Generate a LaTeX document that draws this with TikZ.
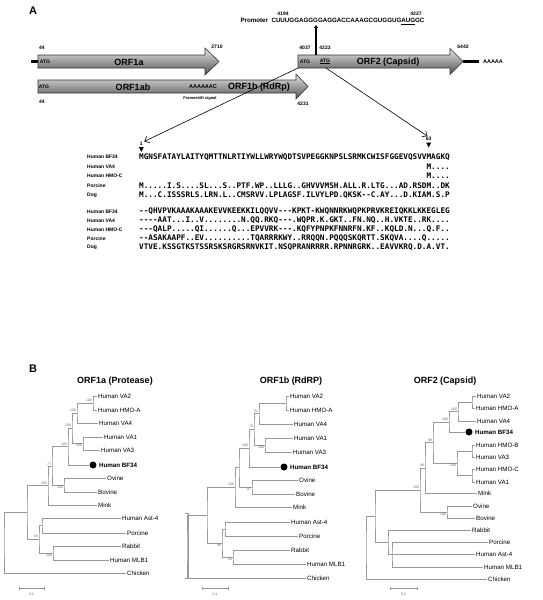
\documentclass[tikz,border=0pt]{standalone}
\usepackage{fontspec}
\setmainfont{Liberation Sans}
\newfontfamily\seqfont[Ligatures=TeXOff]{DejaVu Sans Mono}
\usetikzlibrary{arrows.meta}
\newcommand{\fs}[1]{\fontsize{#1}{#1}\selectfont}

\tikzset{
  orf/.style={draw=black!80, line width=0.6pt, top color=black!10, bottom color=black!68},
  stub/.style={line width=3pt},
  orfname/.style={font=\fs{9}\bfseries},
  num/.style={font=\fs{5}\bfseries},
  panel/.style={font=\fs{11}\bfseries},
  aname/.style={font=\fs{5}\bfseries, anchor=west},
  seq/.style={font=\fs{7.7}\seqfont\bfseries, anchor=west},
  zoomline/.style={line width=0.6pt, shorten >=1.5pt, -{Straight Barb[length=4pt,width=7pt]}},
  promarrow/.style={line width=1.6pt, -{Latex[length=3pt,width=4.5pt]}},
  tree/.style={draw=black!40, line width=0.4pt},
  leaf/.style={anchor=west, inner sep=1.5pt, font=\fs{6.2}},
  bs/.style={font=\fs{3.5}, text=black!60, inner sep=0.8pt},
  dot/.style={circle, fill=black, minimum size=7pt},
  treetitle/.style={font=\fs{9}\bfseries}
}

\begin{document}
\begin{tikzpicture}[x=1pt,y=1pt]
\tikzstyle{every node}+=[inner sep=0pt]
\useasboundingbox (0,0) rectangle (543,-600);

\node[panel] (labA) at (33,-11) {A};
\node[num] (n4194) at (283,-14) {4194};
\node[num] (n4227) at (416,-14) {4227};
\node[font=\fs{6.2}\bfseries] (promtxt) at (332.5,-21.5) {Promoter\ \ CUUUGGAGGGGAGGACCAAAGCGUGGUG\underline{AUG}GC};

\draw[stub] (31,-61.5) -- (38,-61.5);
\draw[orf] (38,-55) -- (205,-55) -- (205,-48) -- (219,-61.5) -- (205,-75) -- (205,-68) -- (38,-68) -- cycle;
\node[num] (n44a) at (42,-48) {44};
\node[num] (n2710) at (217,-47) {2710};
\node[num] (atg1a) at (45,-61.5) {ATG};
\node[orfname] (orf1a) at (129,-62) {ORF1a};

\draw[orf] (38,-80) -- (296,-80) -- (296,-74) -- (308,-86.5) -- (296,-99) -- (296,-93) -- (38,-93) -- cycle;
\node[num] (atg1ab) at (44,-86.5) {ATG};
\node[orfname] (orf1ab) at (133,-87) {ORF1ab};
\node[font=\fs{5.5}\bfseries] (fsseq) at (203,-87) {AAAAAAC};
\node[orfname] (orf1b) at (259,-87) {ORF1b (RdRp)};
\node[font=\fs{4}\bfseries] (fssig) at (200,-98) {Frameshift signal};
\node[num] (n44b) at (42,-102) {44};
\node[num] (n4231) at (303,-104) {4231};

\draw[orf] (298,-55) -- (450,-55) -- (450,-48.5) -- (463,-61.5) -- (450,-74.5) -- (450,-68) -- (298,-68) -- cycle;
\draw[stub] (463,-61.5) -- (479,-61.5);
\node[num] (n4037) at (305,-48) {4037};
\node[num] (n4223) at (325,-48) {4223};
\node[num] (n6442) at (463,-47) {6442};
\node[num] (atg2a) at (305,-61.5) {ATG};
\node[num] (atg2b) at (325,-61.5) {\underline{ATG}};
\node[orfname] (orf2) at (388,-62) {ORF2 (Capsid)};
\node[font=\fs{5.5}\bfseries] (polya) at (493,-62) {AAAAA};

\coordinate (prom) at (316,-55);
\draw[promarrow] (prom) -- (prom |- promtxt.south);
\coordinate (orf2sw) at (298,-68);
\coordinate (orf2atg) at (326,-68);

\node[num] (first) at (141.3,-144) {1};
\fill (138.8,-147) -- (143.8,-147) -- (141.3,-152) -- cycle;
\node[num] (last) at (428.7,-139) {63};
\fill (426.2,-142.5) -- (431.2,-142.5) -- (428.7,-147.5) -- cycle;
\draw[zoomline] (orf2sw) -- (first.north east);
\draw[zoomline] (orf2atg) -- (last.north);

\node[aname] (hbf1) at (87,-157) {Human BF34};
\node[aname] (hva41) at (87,-166.5) {Human VA4};
\node[aname] (hhmo1) at (87,-176) {Human HMO-C};
\node[aname] (hpor1) at (87,-185.5) {Porcine};
\node[aname] (hdog1) at (87,-195) {Dog};
\node[seq] (sbf1) at (139,-157) {MGNSFATAYLAITYQMTTNLRTIYWLLWRYWQDTSVPEGGKNPSLSRMKCWISFGGEVQSVVMAGKQ};
\node[seq] (sva41) at (426.4,-166.5) {M....};
\node[seq] (shmo1) at (426.4,-176) {M....};
\node[seq] (spor1) at (139,-185.5) {M.....I.S....SL...S..PTF.WP..LLLG..GHVVVMSH.ALL.R.LTG...AD.RSDM..DK};
\node[seq] (sdog1) at (139,-195) {M...C.ISSSRLS.LRN.L..CMSRVV.LPLAGSF.ILVYLPD.QKSK--C.AY...D.KIAM.S.P};

\node[aname] (hbf2) at (87,-211.5) {Human BF34};
\node[aname] (hva42) at (87,-220.5) {Human VA4};
\node[aname] (hhmo2) at (87,-229.5) {Human HMO-C};
\node[aname] (hpor2) at (87,-238.5) {Porcine};
\node[aname] (hdog2) at (87,-247.5) {Dog};
\node[seq] (sbf2) at (139,-211.5) {--QHVPVKAAAKAAAKEVVKEEKKILQQVV---KPKT-KWQNNRKWQPKPRVKREIQKKLKKEGLEG};
\node[seq] (sva42) at (139,-220.5) {----AAT...I..V........N.QQ.RKQ---.WQPR.K.GKT..FN.NQ..H.VKTE..RK....};
\node[seq] (shmo2) at (139,-229.5) {---QALP.....QI......Q...EPVVRK---.KQFYPNPKFNNRFN.KF..KQLD.N...Q.F..};
\node[seq] (spor2) at (139,-238.5) {--ASAKAAPF..EV..........TQARRRKWY..RRQQN.PQQQSKQRTT.SKQVA....Q.....};
\node[seq] (sdog2) at (139,-247.5) {VTVE.KSSGTKSTSSRSKSRGRSRNVKIT.NSQPRANRRRR.RPNNRGRK..EAVVKRQ.D.A.VT.};

\node[panel] (labB) at (33,-369) {B};

\node[treetitle] (ta) at (115,-381) {ORF1a (Protease)};
\node[leaf] (aVA2) at (96.5,-396) {Human VA2};
\node[leaf] (aHMOA) at (96.5,-410) {Human HMO-A};
\node[leaf] (aVA4) at (97.5,-423) {Human VA4};
\node[leaf] (aVA1) at (102.5,-437) {Human VA1};
\node[leaf] (aVA3) at (99.5,-450) {Human VA3};
\node[dot] (aDot) at (93,-465) {};
\node[leaf,font=\fs{6.2}\bfseries] (aBF) at (97.5,-465) {Human BF34};
\node[leaf] (aOvine) at (105.5,-478) {Ovine};
\node[leaf] (aBovine) at (96.5,-492) {Bovine};
\node[leaf] (aMink) at (96.5,-505) {Mink};
\node[leaf] (aAst) at (120.5,-518) {Human Ast-4};
\node[leaf] (aPorcine) at (125.5,-533) {Porcine};
\node[leaf] (aRabbit) at (120.5,-546) {Rabbit};
\node[leaf] (aMLB) at (108.5,-560) {Human MLB1};
\node[leaf] (aChicken) at (125.5,-573) {Chicken};
\coordinate (a1) at (93,-403);
\coordinate (a2) at (77,-413);
\coordinate (a3) at (83,-443.5);
\coordinate (a4) at (72,-428);
\coordinate (a5) at (68,-446.5);
\coordinate (a6) at (64,-485);
\coordinate (a7) at (52,-466);
\coordinate (a8) at (48,-485.5);
\coordinate (a9) at (27,-512);
\coordinate (a10) at (42,-525.5);
\coordinate (a11) at (53,-553);
\coordinate (a12) at (39,-539);
\coordinate (a0) at (4,-542);
\draw[tree] (aVA2.west) -| (a1) |- (aHMOA.west);
\draw[tree] (a1) -| (a2) |- (aVA4.west);
\draw[tree] (aVA1.west) -| (a3) |- (aVA3.west);
\draw[tree] (a2) -| (a4) |- (a3);
\draw[tree] (a4) -| (a5) |- (aDot.west);
\draw[tree] (aOvine.west) -| (a6) |- (aBovine.west);
\draw[tree] (a5) -| (a7) |- (a6);
\draw[tree] (a7) -| (a8) |- (aMink.west);
\draw[tree] (aAst.west) -| (a10) |- (aPorcine.west);
\draw[tree] (aRabbit.west) -| (a11) |- (aMLB.west);
\draw[tree] (a10) -| (a12) |- (a11);
\draw[tree] (a8) -| (a9) |- (a12);
\draw[tree] (a9) -| (a0) |- (aChicken.west);
\node[bs,above left] (ab1) at (a1) {100};
\node[bs,above left] (ab2) at (a2) {100};
\node[bs,below left] (ab3) at (a3) {100};
\node[bs,above left] (ab4) at (a4) {100};
\node[bs,above left] (ab5) at (a5) {100};
\node[bs,below left] (ab6) at (a6) {100};
\node[bs,above left] (ab7) at (a7) {77};
\node[bs,above left] (ab8) at (a8) {100};
\node[bs,below left] (ab11) at (a11) {100};
\node[bs,above left] (ab12) at (a12) {83};
\draw[tree] (185,-513) -- (188,-513) -- (188,-578) -- (185,-578);
\draw[tree] (19,-586.5) -- (19,-589.5) (19,-588) -- (44,-588) (44,-586.5) -- (44,-589.5);
\node[bs] (asc) at (31.5,-594) {0.2};

\node[treetitle] (tb) at (291,-381) {ORF1b (RdRP)};
\node[leaf] (bVA2) at (288.5,-396) {Human VA2};
\node[leaf] (bHMOA) at (288.5,-410) {Human HMO-A};
\node[leaf] (bVA4) at (292.5,-424) {Human VA4};
\node[leaf] (bVA1) at (292.5,-438) {Human VA1};
\node[leaf] (bVA3) at (291.5,-452) {Human VA3};
\node[dot] (bDot) at (284,-467) {};
\node[leaf,font=\fs{6.2}\bfseries] (bBF) at (288.5,-467) {Human BF34};
\node[leaf] (bOvine) at (297.5,-480) {Ovine};
\node[leaf] (bBovine) at (294.5,-494) {Bovine};
\node[leaf] (bMink) at (291.5,-507) {Mink};
\node[leaf] (bAst) at (289.5,-522) {Human Ast-4};
\node[leaf] (bPorcine) at (297.5,-536) {Porcine};
\node[leaf] (bRabbit) at (289.5,-550) {Rabbit};
\node[leaf] (bMLB) at (305.5,-564) {Human MLB1};
\node[leaf] (bChicken) at (305.5,-578) {Chicken};
\coordinate (b1) at (286,-403);
\coordinate (b2) at (259,-413.5);
\coordinate (b3) at (265,-445);
\coordinate (b4) at (254,-429);
\coordinate (b5) at (249,-448);
\coordinate (b6) at (252,-487);
\coordinate (b7) at (239,-467.5);
\coordinate (b8) at (235,-487);
\coordinate (b9) at (207,-515);
\coordinate (b10) at (225,-529);
\coordinate (b11) at (233,-557);
\coordinate (b12) at (222,-543);
\coordinate (b0) at (187,-546.5);
\draw[tree] (bVA2.west) -| (b1) |- (bHMOA.west);
\draw[tree] (b1) -| (b2) |- (bVA4.west);
\draw[tree] (bVA1.west) -| (b3) |- (bVA3.west);
\draw[tree] (b2) -| (b4) |- (b3);
\draw[tree] (b4) -| (b5) |- (bDot.west);
\draw[tree] (bOvine.west) -| (b6) |- (bBovine.west);
\draw[tree] (b5) -| (b7) |- (b6);
\draw[tree] (b7) -| (b8) |- (bMink.west);
\draw[tree] (bAst.west) -| (b10) |- (bPorcine.west);
\draw[tree] (bRabbit.west) -| (b11) |- (bMLB.west);
\draw[tree] (b10) -| (b12) |- (b11);
\draw[tree] (b8) -| (b9) |- (b12);
\draw[tree] (b9) -| (b0) |- (bChicken.west);
\node[bs,above left] (bb2) at (b2) {91};
\node[bs,below left] (bb3) at (b3) {100};
\node[bs,above left] (bb4) at (b4) {70};
\node[bs,above left] (bb5) at (b5) {100};
\node[bs,below left] (bb6) at (b6) {97};
\node[bs,above left] (bb8) at (b8) {100};
\node[bs,below left] (bb11) at (b11) {94};
\node[bs,below left] (bb12) at (b12) {99};
\draw[tree] (202,-586.5) -- (202,-589.5) (202,-588) -- (228,-588) (228,-586.5) -- (228,-589.5);
\node[bs] (bsc) at (215,-594) {0.1};

\node[treetitle] (tc) at (445,-381) {ORF2 (Capsid)};
\node[leaf] (cVA2) at (475.5,-396) {Human VA2};
\node[leaf] (cHMOA) at (474.5,-408) {Human HMO-A};
\node[leaf] (cVA4) at (475.5,-421) {Human VA4};
\node[dot] (cDot) at (469,-432) {};
\node[leaf,font=\fs{6.2}\bfseries] (cBF) at (473.5,-432) {Human BF34};
\node[leaf] (cHMOB) at (474.5,-445) {Human HMO-B};
\node[leaf] (cVA3) at (474.5,-457) {Human VA3};
\node[leaf] (cHMOC) at (474.5,-469) {Human HMO-C};
\node[leaf] (cVA1) at (474.5,-482) {Human VA1};
\node[leaf] (cMink) at (476.5,-493) {Mink};
\node[leaf] (cOvine) at (471.5,-506) {Ovine};
\node[leaf] (cBovine) at (474.5,-518) {Bovine};
\node[leaf] (cRabbit) at (470.5,-530) {Rabbit};
\node[leaf] (cPorcine) at (487.5,-542) {Porcine};
\node[leaf] (cAst) at (474.5,-554) {Human Ast-4};
\node[leaf] (cMLB) at (482.5,-567) {Human MLB1};
\node[leaf] (cChicken) at (486.5,-579) {Chicken};
\coordinate (c1) at (472,-402);
\coordinate (c2) at (458,-411.5);
\coordinate (c3) at (449,-421.75);
\coordinate (c4a) at (472,-451);
\coordinate (c4b) at (472,-475.5);
\coordinate (c4) at (457,-463.25);
\coordinate (c5) at (433,-442.5);
\coordinate (c6) at (425,-467.75);
\coordinate (c7) at (447,-512);
\coordinate (c8) at (420,-489.9);
\coordinate (c9) at (388,-542.25);
\coordinate (c10) at (392,-554.5);
\coordinate (c11) at (375,-516);
\coordinate (c0) at (366,-547.5);
\draw[tree] (cVA2.west) -| (c1) |- (cHMOA.west);
\draw[tree] (c1) -| (c2) |- (cVA4.west);
\draw[tree] (c2) -| (c3) |- (cDot.west);
\draw[tree] (cHMOB.west) -| (c4a) |- (cVA3.west);
\draw[tree] (cHMOC.west) -| (c4b) |- (cVA1.west);
\draw[tree] (c4a) -| (c4) |- (c4b);
\draw[tree] (c3) -| (c5) |- (c4);
\draw[tree] (c5) -| (c6) |- (cMink.west);
\draw[tree] (cOvine.west) -| (c7) |- (cBovine.west);
\draw[tree] (c6) -| (c8) |- (c7);
\draw[tree] (cPorcine.west) -| (c10) |- (cMLB.west);
\draw[tree] (cAst.west) -- (cAst.west -| c10);
\draw[tree] (cRabbit.west) -| (c9) |- (c10);
\draw[tree] (c8) -| (c11) |- (c9);
\draw[tree] (c11) -| (c0) |- (cChicken.west);
\node[bs,above left] (cb2) at (c2) {100};
\node[bs,above left] (cb3) at (c3) {100};
\node[bs,below left] (cb4) at (c4) {100};
\node[bs,above left] (cb5) at (c5) {99};
\node[bs,above left] (cb6) at (c6) {98};
\node[bs,below left] (cb7) at (c7) {100};
\node[bs,above left] (cb8) at (c8) {100};
\draw[tree] (390,-586.5) -- (390,-589.5) (390,-588) -- (417,-588) (417,-586.5) -- (417,-589.5);
\node[bs] (csc) at (403.5,-594) {0.2};
\end{tikzpicture}
\end{document}
